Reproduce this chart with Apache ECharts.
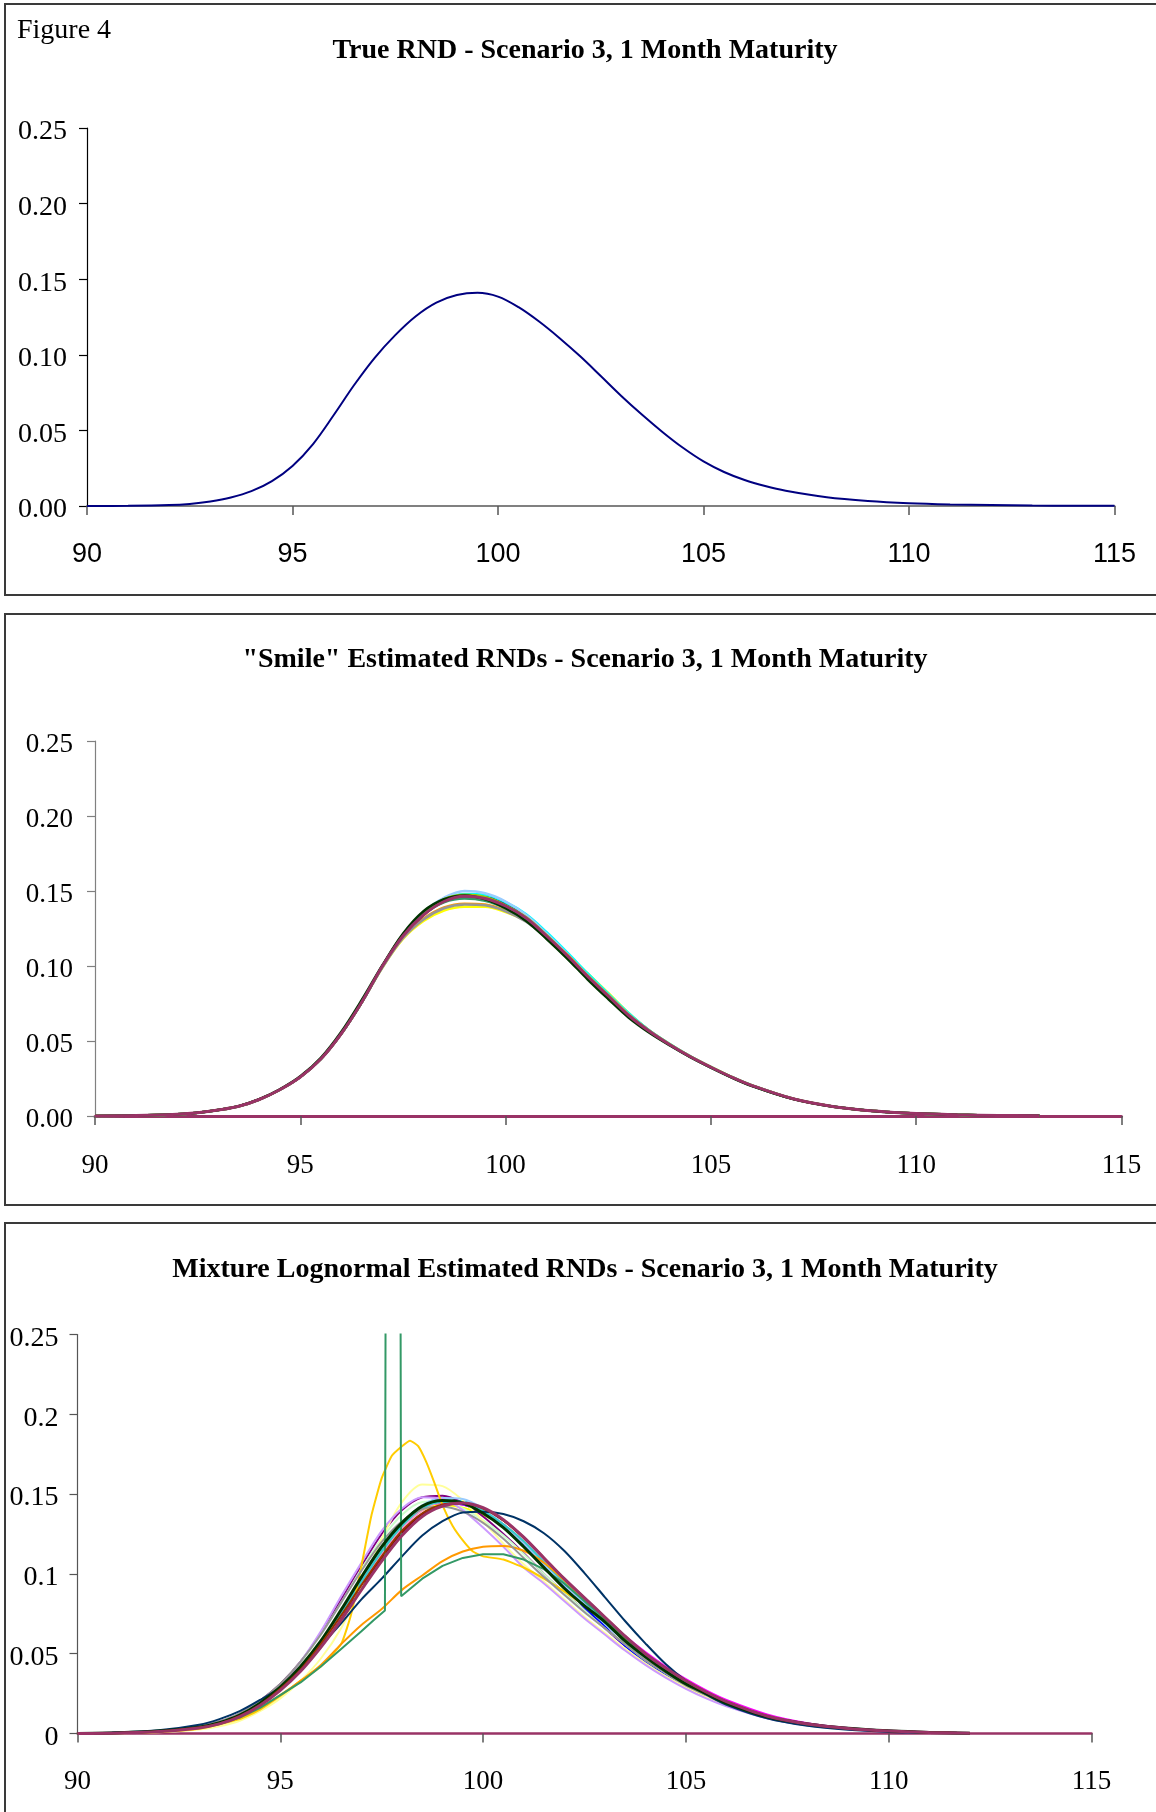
<!DOCTYPE html>
<html>
<head>
<meta charset="utf-8">
<script src="https://cdn.jsdelivr.net/npm/echarts@6/dist/echarts.min.js"></script>
<style>
  html, body { margin: 0; padding: 0; background: #fff; }
  #wrap { position: relative; width: 1156px; height: 1812px; overflow: hidden; }
  .frame { position: absolute; border: 2px solid #3a3a3a; box-sizing: border-box; }
  #chart { position: absolute; left: 0; top: 0; width: 1156px; height: 1812px; }
</style>
</head>
<body>
<div id="wrap">
  <div class="frame" style="left:4px; top:3px; width:1160px; height:593px;"></div>
  <div class="frame" style="left:4px; top:613px; width:1160px; height:593px;"></div>
  <div class="frame" style="left:4px; top:1222px; width:1160px; height:600px;"></div>
  <div id="chart"></div>
</div>
<script>
// ---- panel 1: true RND ----
const trueX = [90, 91, 92, 92.5, 93, 93.5, 94, 94.5, 95, 95.5, 96, 96.5, 97, 97.5, 98, 98.5, 99, 99.5, 100, 100.5, 101, 101.5, 102, 102.5, 103, 103.5, 104, 104.5, 105, 105.5, 106, 106.5, 107, 108, 109, 110, 111, 112, 113, 114, 115]
const trueRnd = [0, 0.0001, 0.0006, 0.0014, 0.003, 0.0056, 0.0098, 0.0165, 0.0265, 0.041, 0.060, 0.080, 0.098, 0.113, 0.1255, 0.1345, 0.1395, 0.141, 0.1385, 0.1315, 0.122, 0.111, 0.099, 0.086, 0.0728, 0.0605, 0.049, 0.0385, 0.0295, 0.0225, 0.0172, 0.0132, 0.0101, 0.0058, 0.0033, 0.0018, 0.001, 0.0006, 0.0003, 0.0002, 0.0001]

// ---- panel 2: "smile" estimates ----
const smileX = [90, 91, 92, 92.5, 93, 93.5, 94, 94.5, 95, 95.5, 96, 96.5, 97, 97.5, 98, 98.5, 99, 99.5, 100, 100.5, 101, 101.5, 102, 102.5, 103, 103.5, 104, 104.5, 105, 105.5, 106, 107, 108, 109, 110, 111, 112, 113]
const smileNavy = [0, 0.0003, 0.0012, 0.0022, 0.004, 0.0065, 0.011, 0.0175, 0.026, 0.038, 0.055, 0.076, 0.0995, 0.1195, 0.134, 0.1435, 0.147, 0.1465, 0.1415, 0.1335, 0.1215, 0.108, 0.094, 0.081, 0.068, 0.057, 0.0478, 0.0397, 0.0326, 0.026, 0.0203, 0.0115, 0.0062, 0.0033, 0.0016, 0.0008, 0.0004, 0.0001]
const smileYellow = [0, 0.0003, 0.0012, 0.0022, 0.004, 0.0065, 0.011, 0.0175, 0.026, 0.038, 0.055, 0.076, 0.099, 0.118, 0.130, 0.137, 0.1395, 0.1395, 0.136, 0.130, 0.120, 0.108, 0.095, 0.082, 0.0685, 0.057, 0.048, 0.0398, 0.0327, 0.0261, 0.0204, 0.0115, 0.0062, 0.0033, 0.0016, 0.0008, 0.0004, 0.0001]
const smileCyan = [0, 0.0003, 0.0012, 0.0022, 0.004, 0.0065, 0.011, 0.0175, 0.026, 0.038, 0.055, 0.076, 0.0995, 0.1195, 0.1345, 0.144, 0.148, 0.1475, 0.1425, 0.1345, 0.1225, 0.109, 0.095, 0.0815, 0.0685, 0.057, 0.048, 0.0398, 0.0327, 0.0261, 0.0204, 0.0115, 0.0062, 0.0033, 0.0016, 0.0008, 0.0004, 0.0001]
const smileTeal = [0, 0.0003, 0.0012, 0.0022, 0.004, 0.0065, 0.011, 0.0175, 0.026, 0.038, 0.055, 0.076, 0.100, 0.1205, 0.135, 0.1435, 0.146, 0.1445, 0.1395, 0.1315, 0.1195, 0.1065, 0.0925, 0.0795, 0.067, 0.0565, 0.0475, 0.0395, 0.0325, 0.026, 0.0203, 0.0115, 0.0062, 0.0033, 0.0016, 0.0008, 0.0004, 0.0001]
const smileLightBlue = [0, 0.0003, 0.0012, 0.0022, 0.004, 0.0065, 0.011, 0.0175, 0.026, 0.038, 0.055, 0.076, 0.100, 0.121, 0.136, 0.1455, 0.150, 0.1485, 0.143, 0.134, 0.1215, 0.108, 0.0935, 0.080, 0.0672, 0.0565, 0.0475, 0.0395, 0.0325, 0.026, 0.0203, 0.0115, 0.0062, 0.0033, 0.0016, 0.0008, 0.0004, 0.0001]
const smileLime = [0, 0.0003, 0.0012, 0.0022, 0.004, 0.0065, 0.011, 0.0175, 0.026, 0.038, 0.055, 0.076, 0.100, 0.121, 0.1355, 0.1445, 0.1475, 0.146, 0.1405, 0.1325, 0.1205, 0.107, 0.093, 0.0795, 0.067, 0.0565, 0.0475, 0.0395, 0.0325, 0.026, 0.0203, 0.0115, 0.0062, 0.0033, 0.0016, 0.0008, 0.0004, 0.0001]
const smileOrange = [0, 0.0003, 0.0012, 0.0022, 0.004, 0.0065, 0.011, 0.0175, 0.026, 0.038, 0.055, 0.076, 0.0995, 0.119, 0.1315, 0.139, 0.1415, 0.141, 0.137, 0.1305, 0.1195, 0.1075, 0.0935, 0.0805, 0.0675, 0.0567, 0.0477, 0.0396, 0.0326, 0.026, 0.0203, 0.0115, 0.0062, 0.0033, 0.0016, 0.0008, 0.0004, 0.0001]
const smileGray = [0, 0.0003, 0.0012, 0.0022, 0.004, 0.0065, 0.011, 0.0175, 0.026, 0.038, 0.055, 0.076, 0.099, 0.1185, 0.131, 0.1385, 0.141, 0.1405, 0.1365, 0.1295, 0.1185, 0.106, 0.0925, 0.0795, 0.067, 0.0565, 0.0475, 0.0395, 0.0325, 0.026, 0.0203, 0.0115, 0.0062, 0.0033, 0.0016, 0.0008, 0.0004, 0.0001]
const smileGreen = [0, 0.0003, 0.0012, 0.0022, 0.004, 0.0065, 0.011, 0.0175, 0.026, 0.038, 0.055, 0.076, 0.100, 0.1205, 0.1345, 0.1425, 0.145, 0.1435, 0.1385, 0.1305, 0.1185, 0.1055, 0.092, 0.079, 0.0665, 0.056, 0.0472, 0.0393, 0.0323, 0.0258, 0.0201, 0.0114, 0.0062, 0.0033, 0.0016, 0.0008, 0.0004, 0.0001]
const smileBlack = [0, 0.0003, 0.0012, 0.0022, 0.004, 0.0066, 0.0112, 0.0178, 0.0265, 0.0388, 0.0562, 0.0775, 0.1005, 0.1215, 0.1365, 0.1445, 0.147, 0.1445, 0.1385, 0.130, 0.118, 0.105, 0.091, 0.078, 0.0655, 0.0555, 0.047, 0.0392, 0.0322, 0.0257, 0.02, 0.0113, 0.0061, 0.0032, 0.0016, 0.0008, 0.0004, 0.0001]
const smileMaroon = [0, 0.0003, 0.0012, 0.0022, 0.004, 0.0065, 0.011, 0.0175, 0.026, 0.038, 0.055, 0.076, 0.100, 0.120, 0.134, 0.143, 0.1465, 0.145, 0.140, 0.132, 0.120, 0.107, 0.093, 0.080, 0.067, 0.0565, 0.0475, 0.0395, 0.0325, 0.026, 0.0203, 0.0115, 0.0062, 0.0033, 0.0016, 0.0008, 0.0004, 0.0001]

// ---- panel 3: mixture lognormal estimates ----
const mixX = [90, 91, 92, 93, 93.5, 94, 94.5, 95, 95.5, 96, 96.5, 97, 97.5, 98, 98.5, 99, 99.5, 100, 100.5, 101, 101.5, 102, 102.5, 103, 103.5, 104, 104.5, 105, 105.5, 106, 107, 108, 109, 110, 111, 112]
const mixNavy = [0, 0.0004, 0.0015, 0.0042, 0.007, 0.0118, 0.019, 0.029, 0.041, 0.056, 0.075, 0.095, 0.114, 0.130, 0.1405, 0.1445, 0.1435, 0.1385, 0.130, 0.119, 0.106, 0.093, 0.081, 0.070, 0.058, 0.047, 0.038, 0.030, 0.024, 0.0185, 0.010, 0.0055, 0.003, 0.0015, 0.0006, 0.0002]
const mixMagenta = [0, 0.0003, 0.0013, 0.0038, 0.0064, 0.011, 0.018, 0.028, 0.040, 0.055, 0.074, 0.094, 0.113, 0.129, 0.140, 0.1445, 0.1435, 0.139, 0.131, 0.120, 0.1075, 0.095, 0.083, 0.072, 0.061, 0.051, 0.042, 0.034, 0.027, 0.021, 0.012, 0.0065, 0.0034, 0.0017, 0.0007, 0.0002]
const mixYellow = [0, 0.0003, 0.0013, 0.0038, 0.0065, 0.011, 0.018, 0.028, 0.041, 0.057, 0.076, 0.096, 0.115, 0.130, 0.140, 0.143, 0.1415, 0.137, 0.130, 0.120, 0.108, 0.095, 0.083, 0.071, 0.059, 0.048, 0.039, 0.031, 0.025, 0.019, 0.0104, 0.0057, 0.0031, 0.0016, 0.0006, 0.0002]
const mixCyan = [0, 0.0004, 0.0014, 0.0039, 0.0066, 0.0112, 0.0185, 0.028, 0.041, 0.056, 0.075, 0.095, 0.114, 0.130, 0.1415, 0.146, 0.1455, 0.140, 0.131, 0.120, 0.1075, 0.094, 0.082, 0.070, 0.058, 0.048, 0.039, 0.031, 0.025, 0.019, 0.0104, 0.0057, 0.0031, 0.0016, 0.0006, 0.0002]
const mixPurple = [0, 0.0004, 0.0016, 0.0045, 0.0075, 0.0125, 0.0205, 0.031, 0.045, 0.063, 0.084, 0.105, 0.125, 0.140, 0.148, 0.149, 0.1445, 0.136, 0.125, 0.113, 0.100, 0.088, 0.077, 0.066, 0.055, 0.046, 0.037, 0.030, 0.024, 0.0185, 0.0102, 0.0055, 0.003, 0.0015, 0.0006, 0.0002]
const mixDarkRed = [0, 0.0003, 0.0012, 0.0036, 0.0062, 0.0107, 0.0178, 0.0275, 0.0395, 0.055, 0.0725, 0.092, 0.110, 0.126, 0.1375, 0.143, 0.1445, 0.141, 0.1335, 0.123, 0.110, 0.096, 0.084, 0.072, 0.060, 0.049, 0.040, 0.032, 0.025, 0.0195, 0.0107, 0.0058, 0.0031, 0.0016, 0.0007, 0.0002]
const mixTeal = [0, 0.0004, 0.0014, 0.004, 0.0067, 0.0113, 0.0187, 0.0285, 0.041, 0.057, 0.0755, 0.0955, 0.1145, 0.1305, 0.1415, 0.1455, 0.1445, 0.139, 0.130, 0.119, 0.1065, 0.094, 0.082, 0.071, 0.059, 0.049, 0.040, 0.032, 0.0255, 0.0195, 0.0107, 0.0058, 0.0031, 0.0016, 0.0007, 0.0002]
const mixBlue = [0, 0.0004, 0.0015, 0.0041, 0.0069, 0.0116, 0.019, 0.029, 0.0415, 0.057, 0.0755, 0.095, 0.114, 0.130, 0.141, 0.1455, 0.144, 0.1385, 0.130, 0.119, 0.106, 0.092, 0.079, 0.067, 0.055, 0.045, 0.0365, 0.029, 0.023, 0.0178, 0.0097, 0.0052, 0.0028, 0.0014, 0.0006, 0.0002]
const mixSky = [0, 0.0004, 0.0014, 0.004, 0.0067, 0.0113, 0.0188, 0.0288, 0.0415, 0.0575, 0.0765, 0.0965, 0.1155, 0.131, 0.142, 0.146, 0.145, 0.1395, 0.1305, 0.1195, 0.107, 0.094, 0.081, 0.069, 0.058, 0.047, 0.038, 0.031, 0.0245, 0.0188, 0.0103, 0.0056, 0.003, 0.0015, 0.0006, 0.0002]
const mixPaleGreen = [0, 0.0004, 0.0016, 0.0044, 0.0074, 0.0123, 0.020, 0.0305, 0.0445, 0.062, 0.082, 0.103, 0.122, 0.137, 0.145, 0.1455, 0.141, 0.1335, 0.124, 0.1125, 0.100, 0.088, 0.077, 0.066, 0.056, 0.046, 0.038, 0.030, 0.024, 0.0185, 0.0103, 0.0056, 0.003, 0.0015, 0.0006, 0.0002]
const mixLightYellow = [0, 0.0002, 0.0008, 0.0025, 0.0045, 0.008, 0.014, 0.022, 0.033, 0.047, 0.066, 0.092, 0.122, 0.145, 0.156, 0.155, 0.146, 0.133, 0.119, 0.106, 0.095, 0.084, 0.073, 0.063, 0.053, 0.044, 0.036, 0.029, 0.023, 0.0178, 0.0098, 0.0052, 0.0028, 0.0014, 0.0006, 0.0002]
const mixLightBlue = [0, 0.0004, 0.0014, 0.004, 0.0066, 0.0112, 0.0185, 0.028, 0.041, 0.057, 0.076, 0.096, 0.116, 0.132, 0.143, 0.1475, 0.147, 0.141, 0.131, 0.119, 0.106, 0.093, 0.081, 0.069, 0.058, 0.047, 0.038, 0.031, 0.0245, 0.0188, 0.0103, 0.0056, 0.003, 0.0015, 0.0006, 0.0002]
const mixPink = [0, 0.0003, 0.0013, 0.0037, 0.0063, 0.0108, 0.018, 0.0278, 0.040, 0.0555, 0.074, 0.094, 0.113, 0.129, 0.140, 0.145, 0.1445, 0.1395, 0.131, 0.1205, 0.108, 0.095, 0.083, 0.071, 0.059, 0.049, 0.040, 0.032, 0.0255, 0.0195, 0.0107, 0.0058, 0.0031, 0.0016, 0.0007, 0.0002]
const mixLavender = [0, 0.0003, 0.0012, 0.0038, 0.0066, 0.0115, 0.0195, 0.030, 0.045, 0.064, 0.086, 0.107, 0.127, 0.141, 0.148, 0.147, 0.140, 0.129, 0.117, 0.104, 0.094, 0.083, 0.072, 0.062, 0.052, 0.043, 0.035, 0.028, 0.022, 0.017, 0.0095, 0.005, 0.0027, 0.0013, 0.0005, 0.0001]
const mixTurquoise = [0, 0.0004, 0.0014, 0.0039, 0.0066, 0.0112, 0.0186, 0.0284, 0.041, 0.0565, 0.075, 0.095, 0.114, 0.130, 0.141, 0.145, 0.1445, 0.1395, 0.131, 0.1205, 0.1075, 0.095, 0.083, 0.071, 0.059, 0.049, 0.040, 0.032, 0.0255, 0.0195, 0.0107, 0.0058, 0.0031, 0.0016, 0.0007, 0.0002]
const mixGray = [0, 0.0004, 0.0016, 0.0045, 0.0075, 0.0125, 0.0205, 0.031, 0.045, 0.062, 0.082, 0.102, 0.120, 0.133, 0.1405, 0.142, 0.139, 0.132, 0.122, 0.110, 0.098, 0.087, 0.076, 0.066, 0.056, 0.046, 0.038, 0.030, 0.024, 0.0185, 0.0102, 0.0055, 0.003, 0.0015, 0.0006, 0.0002]
const mixOrange = [0, 0.0003, 0.0012, 0.0035, 0.006, 0.010, 0.016, 0.024, 0.033, 0.043, 0.056, 0.068, 0.078, 0.090, 0.099, 0.108, 0.114, 0.117, 0.1175, 0.1145, 0.107, 0.096, 0.084, 0.072, 0.060, 0.049, 0.040, 0.032, 0.025, 0.019, 0.0105, 0.0057, 0.003, 0.0015, 0.0006, 0.0002]
const mixDarkBlue = [0, 0.0006, 0.002, 0.0055, 0.009, 0.014, 0.021, 0.029, 0.041, 0.055, 0.069, 0.084, 0.097, 0.111, 0.124, 0.133, 0.1385, 0.139, 0.1375, 0.133, 0.1255, 0.1145, 0.1005, 0.0855, 0.0705, 0.0565, 0.0435, 0.033, 0.0245, 0.018, 0.0095, 0.0048, 0.0023, 0.001, 0.0004, 0.0001]
const mixBrown = [0, 0.0003, 0.0013, 0.0037, 0.0063, 0.011, 0.018, 0.028, 0.040, 0.056, 0.074, 0.093, 0.111, 0.127, 0.138, 0.1435, 0.1445, 0.141, 0.1335, 0.1225, 0.110, 0.097, 0.085, 0.073, 0.061, 0.050, 0.041, 0.033, 0.026, 0.020, 0.011, 0.006, 0.0032, 0.0016, 0.0007, 0.0002]
const mixBlack = [0, 0.0004, 0.0015, 0.004, 0.0068, 0.0115, 0.019, 0.029, 0.042, 0.058, 0.0775, 0.098, 0.117, 0.132, 0.1425, 0.146, 0.1445, 0.138, 0.129, 0.117, 0.104, 0.091, 0.080, 0.070, 0.058, 0.048, 0.039, 0.031, 0.025, 0.019, 0.0105, 0.006, 0.0033, 0.0017, 0.0007, 0.0002]
const mixMaroon = [0, 0.0003, 0.0012, 0.0035, 0.006, 0.0105, 0.0175, 0.027, 0.039, 0.054, 0.071, 0.090, 0.108, 0.124, 0.136, 0.1425, 0.1445, 0.1415, 0.134, 0.123, 0.110, 0.097, 0.085, 0.073, 0.061, 0.050, 0.041, 0.033, 0.026, 0.020, 0.011, 0.006, 0.0032, 0.0016, 0.0007, 0.0002]
// gold and green curves have their own sampling points
const goldX = [90, 91, 92, 93, 94, 94.5, 95, 95.5, 96, 96.5, 96.75, 97, 97.25, 97.5, 97.75, 98, 98.2, 98.4, 98.6, 98.8, 99, 99.25, 99.5, 99.75, 100, 100.5, 101, 101.5, 102, 102.5, 103, 103.5, 104, 104.5, 105, 105.5, 106, 107, 108, 109, 110, 111, 112]
const mixGold = [0, 0.0002, 0.001, 0.003, 0.009, 0.015, 0.0235, 0.033, 0.042, 0.056, 0.075, 0.105, 0.137, 0.160, 0.174, 0.180, 0.1835, 0.180, 0.170, 0.157, 0.143, 0.130, 0.121, 0.114, 0.111, 0.109, 0.104, 0.097, 0.089, 0.080, 0.070, 0.059, 0.048, 0.039, 0.031, 0.025, 0.019, 0.0105, 0.0058, 0.0031, 0.0016, 0.0006, 0.0002]
const spikeX = [90, 91, 92, 93, 93.5, 94, 94.5, 95, 95.5, 96, 96.5, 97, 97.3, 97.58, 97.78, 97.98, 98.5, 99, 99.5, 100, 100.5, 101, 101.5, 102, 102.5, 103, 103.5, 104, 104.5, 105, 105.5, 106, 107, 108, 109, 110, 111, 112]
const mixGreen = [0, 0.0003, 0.0012, 0.0035, 0.006, 0.010, 0.016, 0.024, 0.032, 0.042, 0.053, 0.064, 0.071, 0.077, 2.5, 0.086, 0.097, 0.105, 0.110, 0.1123, 0.1123, 0.109, 0.103, 0.094, 0.083, 0.072, 0.060, 0.049, 0.040, 0.032, 0.025, 0.019, 0.0105, 0.0057, 0.003, 0.0015, 0.0006, 0.0002]

const pairs = (xs, ys) => xs.map((x, i) => [x, ys[i]])

const smileSeries = [
  ['#000080', smileNavy], ['#FFFF00', smileYellow], ['#00FFFF', smileCyan], ['#008080', smileTeal],
  ['#99CCFF', smileLightBlue], ['#99CC00', smileLime], ['#FF9900', smileOrange], ['#969696', smileGray],
  ['#339966', smileGreen], ['#003300', smileBlack], ['#993366', smileMaroon]
]
const mixSeries = [
  ['#000080', mixX, mixNavy, 2], ['#FF00FF', mixX, mixMagenta, 2], ['#FFFF00', mixX, mixYellow, 2],
  ['#00FFFF', mixX, mixCyan, 2], ['#800080', mixX, mixPurple, 2], ['#800000', mixX, mixDarkRed, 2],
  ['#008080', mixX, mixTeal, 2], ['#0000FF', mixX, mixBlue, 2], ['#00CCFF', mixX, mixSky, 2],
  ['#CCFFCC', mixX, mixPaleGreen, 2], ['#FFFF99', mixX, mixLightYellow, 2], ['#99CCFF', mixX, mixLightBlue, 2],
  ['#FF99CC', mixX, mixPink, 2], ['#CC99FF', mixX, mixLavender, 2], ['#33CCCC', mixX, mixTurquoise, 2],
  ['#FFCC00', goldX, mixGold, 2], ['#FF9900', mixX, mixOrange, 2], ['#969696', mixX, mixGray, 2],
  ['#003366', mixX, mixDarkBlue, 2], ['#339966', spikeX, mixGreen, 2], ['#003300', mixX, mixBlack, 3],
  ['#993300', mixX, mixBrown, 2], ['#993366', mixX, mixMaroon, 3]
]

const serif = '"Liberation Serif", "Times New Roman", serif'
const sans = '"Liberation Sans", Arial, sans-serif'

function xAxisFor(gridIndex, lineColor, lineWidth, font, margin) {
  return {
    type: 'value', gridIndex: gridIndex, min: 90, max: 115, interval: 5,
    axisLine: { show: true, onZero: false, lineStyle: { color: lineColor, width: lineWidth } },
    axisTick: { show: true, length: 9, lineStyle: { color: '#555', width: 1.5 } },
    axisLabel: { margin: margin, fontFamily: font, fontSize: 27, color: '#000' },
    splitLine: { show: false }
  }
}
// y labels sit a few pixels below their tick in the original, hence the padded rich style
function yAxisFor(gridIndex, fmt, fontSize, margin, lineColor) {
  return {
    type: 'value', gridIndex: gridIndex, min: 0, max: 0.25, interval: 0.05,
    axisLine: { show: true, lineStyle: { color: lineColor, width: 1.2 } },
    axisTick: { show: true, length: 8, lineStyle: { color: lineColor, width: 1.2 } },
    axisLabel: {
      margin: margin, color: '#000',
      formatter: v => '{t|' + fmt(v) + '}',
      rich: { t: { fontFamily: serif, fontSize: fontSize, color: '#000', padding: [8, 0, 0, 0] } }
    },
    splitLine: { show: false }
  }
}
const fixed2 = v => v.toFixed(2)
const plain = v => String(+v.toFixed(2))

const series = []
series.push({
  type: 'line', xAxisIndex: 0, yAxisIndex: 0, data: pairs(trueX, trueRnd), smooth: 0.35,
  showSymbol: false, lineStyle: { color: '#000080', width: 2 }, itemStyle: { color: '#000080' }
})
smileSeries.forEach(([color, ys]) => {
  series.push({
    type: 'line', xAxisIndex: 1, yAxisIndex: 1, data: pairs(smileX, ys), smooth: 0.35,
    showSymbol: false, lineStyle: { color: color, width: color === '#993366' ? 3 : 2.5 }, itemStyle: { color: color }
  })
})
mixSeries.forEach(([color, xs, ys, w]) => {
  series.push({
    type: 'line', xAxisIndex: 2, yAxisIndex: 2, data: pairs(xs, ys),
    smooth: xs === spikeX ? false : (xs === goldX ? 0.15 : 0.3), clip: true,
    showSymbol: false, lineStyle: { color: color, width: w }, itemStyle: { color: color }
  })
})

const titleFont = 'bold 28px ' + serif
const chart = echarts.init(document.getElementById('chart'), null, { renderer: 'canvas' })
chart.setOption({
  animation: false,
  grid: [
    { left: 87, top: 128, width: 1027.5, height: 378 },
    { left: 95, top: 741, width: 1026.5, height: 375 },
    { left: 77.5, top: 1334.5, width: 1014, height: 399 }
  ],
  xAxis: [
    xAxisFor(0, '#808080', 2, sans, 35),
    xAxisFor(1, '#993366', 3, serif, 36),
    xAxisFor(2, '#993366', 2.5, serif, 35)
  ],
  yAxis: [
    yAxisFor(0, fixed2, 28, 20, '#000'),
    yAxisFor(1, fixed2, 27, 22, '#808080'),
    yAxisFor(2, plain, 28, 19, '#555')
  ],
  graphic: [
    { type: 'text', style: { text: 'Figure 4', x: 17, y: 31, font: '28px ' + serif, fill: '#000', textVerticalAlign: 'middle' } },
    { type: 'text', style: { text: 'True RND - Scenario 3, 1 Month Maturity', x: 585, y: 51, font: titleFont, fill: '#000', textAlign: 'center', textVerticalAlign: 'middle' } },
    { type: 'text', style: { text: '"Smile" Estimated RNDs - Scenario 3, 1 Month Maturity', x: 585, y: 660, font: titleFont, fill: '#000', textAlign: 'center', textVerticalAlign: 'middle' } },
    { type: 'text', style: { text: 'Mixture Lognormal Estimated RNDs - Scenario 3, 1 Month Maturity', x: 585, y: 1270, font: titleFont, fill: '#000', textAlign: 'center', textVerticalAlign: 'middle' } }
  ],
  series: series
})
</script>
</body>
</html>
